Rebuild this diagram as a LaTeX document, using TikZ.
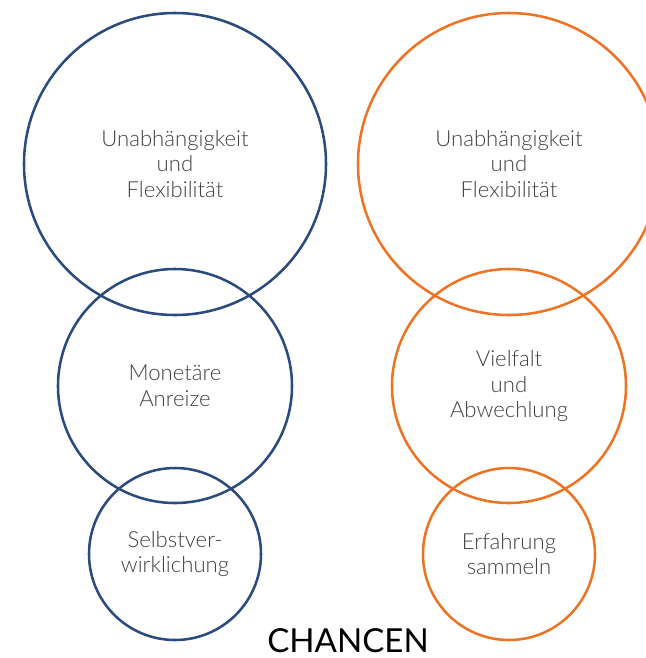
\documentclass[tikz,border=0pt]{standalone}
\usepackage{fontspec}
\setmainfont{Lato}
\newfontfamily\lightfont{Lato Light}
\usepackage{tikz}
\usetikzlibrary{positioning}

\definecolor{chblue}{HTML}{2B4A7E}
\definecolor{chorange}{HTML}{EC7424}
\definecolor{chtext}{HTML}{404040}

\begin{document}
\begin{tikzpicture}[x=0.75pt, y=-0.75pt]
        % --- Definitionen: Radien und Spalten ---
        \def\rBig{151}
        \def\rMid{117}
        \def\rSmall{86}
        \def\colL{175}
        \def\colR{509}

        \tikzset{
            ring/.style={circle, line width=1.9pt, inner sep=0pt, minimum size=2*#1*0.75pt,
                align=center, text=chtext, font=\lightfont\fontsize{16.6}{19.2}\selectfont},
        }

        % --- Rahmen (rechter Kreis wird abgeschnitten) ---
        \useasboundingbox (0,0) rectangle (646,658);
        \clip (0,0) rectangle (646,658);

        % --- linke Spalte ---
        \node[ring=\rBig, draw=chblue] (bigL) at (\colL,164) {Unabhängigkeit\\und\\Flexibilität};
        \node[ring=\rMid, draw=chblue] (midL) at (\colL,386) {Monetäre\\Anreize};
        \node[ring=\rSmall, draw=chblue] (smallL) at (\colL,554) {Selbstver-\\wirklichung};

        % --- rechte Spalte ---
        \node[ring=\rBig, draw=chorange] (bigR) at (\colR,164) {Unabhängigkeit\\und\\Flexibilität};
        \node[ring=\rMid, draw=chorange] (midR) at (\colR,386) {Vielfalt\\und\\Abwechlung};
        \node[ring=\rSmall, draw=chorange] (smallR) at (\colR,554) {Erfahrung\\sammeln};

        % --- Titel ---
        \node[font=\fontsize{24.8}{28}\selectfont, text=black, inner sep=0pt, anchor=base] (title) at (348,652) {CHANCEN};

    \end{tikzpicture}
\end{document}
